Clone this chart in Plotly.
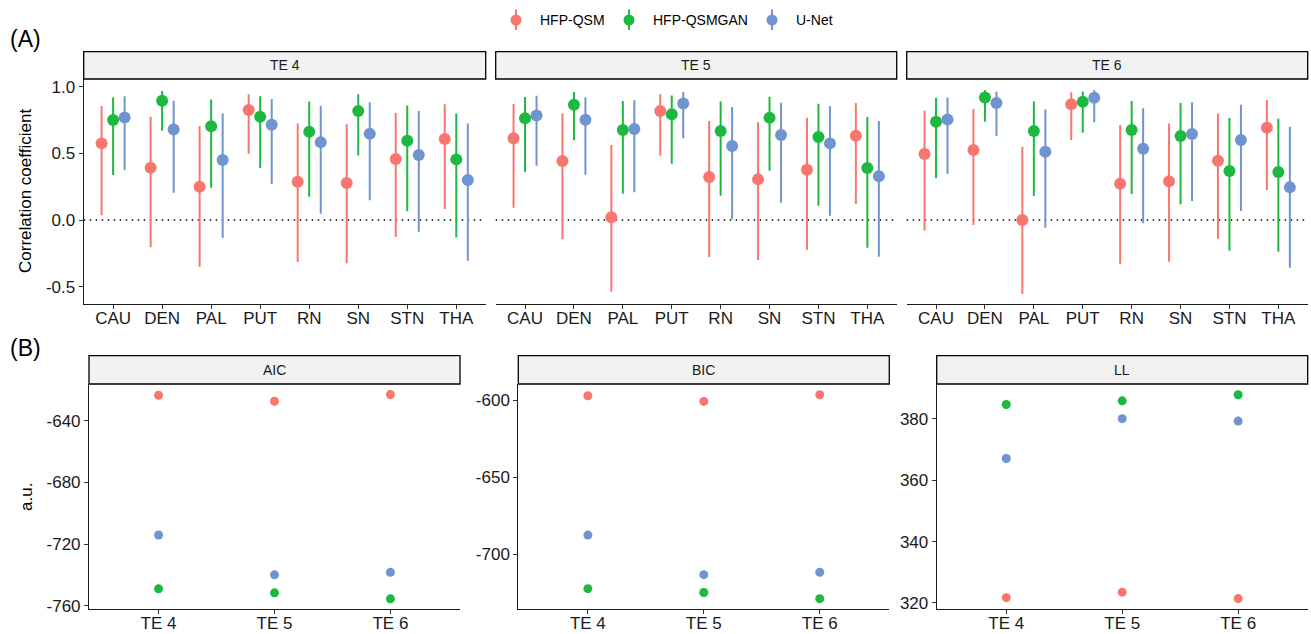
import plotly.graph_objects as go

W, H = 1311, 634

regions = ["CAU", "DEN", "PAL", "PUT", "RN", "SN", "STN", "THA"]
methods = ["HFP-QSM", "HFP-QSMGAN", "U-Net"]
te_labels = ["TE 4", "TE 5", "TE 6"]
metric_labels = ["AIC", "BIC", "LL"]
colors = ["#F8766D", "#1DB83F", "#7094CF"]

# ---- (A) correlation coefficients: estimate, lower, upper ----
# TE 4
r_te4_hfp = [0.575, 0.393, 0.250, 0.825, 0.288, 0.278, 0.458, 0.608]
lo_te4_hfp = [0.035, -0.205, -0.350, 0.498, -0.315, -0.325, -0.128, 0.083]
hi_te4_hfp = [0.855, 0.775, 0.705, 0.943, 0.725, 0.718, 0.803, 0.868]
r_te4_gan = [0.750, 0.895, 0.703, 0.775, 0.663, 0.818, 0.595, 0.455]
lo_te4_gan = [0.338, 0.670, 0.243, 0.390, 0.175, 0.485, 0.065, -0.130]
hi_te4_gan = [0.920, 0.968, 0.905, 0.928, 0.890, 0.943, 0.860, 0.800]
r_te4_unet = [0.770, 0.680, 0.450, 0.715, 0.583, 0.648, 0.488, 0.300]
lo_te4_unet = [0.375, 0.205, -0.135, 0.270, 0.048, 0.148, -0.088, -0.305]
hi_te4_unet = [0.928, 0.895, 0.800, 0.908, 0.858, 0.883, 0.818, 0.725]
# TE 5
r_te5_hfp = [0.613, 0.443, 0.020, 0.818, 0.323, 0.305, 0.378, 0.633]
lo_te5_hfp = [0.093, -0.145, -0.538, 0.483, -0.278, -0.300, -0.223, 0.120]
hi_te5_hfp = [0.870, 0.800, 0.563, 0.943, 0.743, 0.733, 0.768, 0.878]
r_te5_gan = [0.763, 0.865, 0.675, 0.793, 0.668, 0.768, 0.623, 0.390]
lo_te5_gan = [0.360, 0.598, 0.198, 0.423, 0.183, 0.370, 0.108, -0.208]
hi_te5_gan = [0.923, 0.960, 0.893, 0.935, 0.890, 0.925, 0.873, 0.773]
r_te5_unet = [0.785, 0.753, 0.683, 0.875, 0.555, 0.638, 0.575, 0.328]
lo_te5_unet = [0.408, 0.340, 0.208, 0.613, 0.005, 0.130, 0.033, -0.275]
hi_te5_unet = [0.933, 0.920, 0.898, 0.960, 0.848, 0.880, 0.855, 0.743]
# TE 6
r_te6_hfp = [0.495, 0.525, 0.000, 0.868, 0.273, 0.290, 0.445, 0.693]
lo_te6_hfp = [-0.080, -0.038, -0.555, 0.600, -0.330, -0.313, -0.140, 0.225]
hi_te6_hfp = [0.820, 0.833, 0.550, 0.958, 0.713, 0.725, 0.800, 0.900]
r_te6_gan = [0.738, 0.920, 0.668, 0.888, 0.675, 0.630, 0.368, 0.360]
lo_te6_gan = [0.313, 0.738, 0.180, 0.655, 0.195, 0.118, -0.230, -0.238]
hi_te6_gan = [0.915, 0.975, 0.890, 0.965, 0.893, 0.878, 0.765, 0.760]
r_te6_unet = [0.755, 0.878, 0.513, 0.918, 0.535, 0.645, 0.600, 0.245]
lo_te6_unet = [0.345, 0.630, -0.058, 0.733, -0.025, 0.143, 0.068, -0.358]
hi_te6_unet = [0.920, 0.963, 0.830, 0.975, 0.838, 0.883, 0.865, 0.700]

# ---- (B) model fit metrics per TE ----
aic_hfp = [-623.3, -627.2, -622.9]
aic_gan = [-749.1, -751.7, -755.6]
aic_unet = [-714.1, -740.0, -738.4]
bic_hfp = [-597.2, -600.9, -596.6]
bic_gan = [-722.5, -725.0, -729.0]
bic_unet = [-687.7, -713.4, -711.9]
ll_hfp = [321.7, 323.5, 321.4]
ll_gan = [384.7, 385.9, 387.9]
ll_unet = [367.1, 380.1, 379.3]

# tick labels
corr_tickvals = [-0.5, 0.0, 0.5, 1.0]
corr_ticktext = ["-0.5", "0.0", "0.5", "1.0"]
aic_ticks = [-760, -720, -680, -640]
bic_ticks = [-700, -650, -600]
ll_ticks = [320, 340, 360, 380]

top_data = [
    [(r_te4_hfp, lo_te4_hfp, hi_te4_hfp), (r_te4_gan, lo_te4_gan, hi_te4_gan), (r_te4_unet, lo_te4_unet, hi_te4_unet)],
    [(r_te5_hfp, lo_te5_hfp, hi_te5_hfp), (r_te5_gan, lo_te5_gan, hi_te5_gan), (r_te5_unet, lo_te5_unet, hi_te5_unet)],
    [(r_te6_hfp, lo_te6_hfp, hi_te6_hfp), (r_te6_gan, lo_te6_gan, hi_te6_gan), (r_te6_unet, lo_te6_unet, hi_te6_unet)],
]
bottom_data = [
    [aic_hfp, aic_gan, aic_unet],
    [bic_hfp, bic_gan, bic_unet],
    [ll_hfp, ll_gan, ll_unet],
]

FONT = "Liberation Sans, Arial, sans-serif"

# ---- layout geometry (pixels) ----
top_x = [(83.7, 485.7), (495.7, 896.7), (906.7, 1307.7)]
top_plot_y = (79.0, 304.0)
top_strip_y = (51.7, 79.0)
bot_x = [(89.0, 460.0), (518.3, 889.3), (936.7, 1307.7)]
bot_plot_y = (384.0, 609.0)
bot_strip_y = (355.7, 384.0)


def px(x):
    return x / W


def py(y):
    return 1 - y / H


fig = go.Figure()
dodge = [-0.235, 0.0, 0.235]

axis_common = dict(
    showgrid=False, zeroline=False, showline=True, linecolor="#1a1a1a", linewidth=1.1,
    ticks="outside", ticklen=4, tickwidth=1.1, tickcolor="#333333",
    tickfont=dict(family=FONT, size=17, color="#1a1a1a"), fixedrange=True,
    automargin=False,
)
xaxis_extra = dict(ticklabelstandoff=-5)

shapes = []
annotations = []

# top panels
for p in range(3):
    xa = "x" if p == 0 else f"x{p + 1}"
    ya = "y" if p == 0 else f"y{p + 1}"
    for m in range(3):
        est, lo, hi = top_data[p][m]
        xs = [i + 1 + dodge[m] for i in range(len(regions))]
        fig.add_trace(go.Scatter(
            x=xs, y=est, mode="markers", name=methods[m], showlegend=False,
            marker=dict(color=colors[m], size=12, line=dict(width=0)),
            error_y=dict(type="data", symmetric=False,
                         array=[h - e for h, e in zip(hi, est)],
                         arrayminus=[e - l for e, l in zip(est, lo)],
                         thickness=2, width=0, color=colors[m]),
            xaxis=xa, yaxis=ya, hoverinfo="skip",
        ))
    xkey = "xaxis" if p == 0 else f"xaxis{p + 1}"
    ykey = "yaxis" if p == 0 else f"yaxis{p + 1}"
    fig.update_layout(**{
        xkey: dict(axis_common, **xaxis_extra, domain=[px(top_x[p][0]), px(top_x[p][1])],
                   range=[0.4, 8.6], tickvals=list(range(1, 9)), ticktext=regions,
                   anchor=ya),
        ykey: dict(axis_common, domain=[py(top_plot_y[1]), py(top_plot_y[0])],
                   range=[-0.63, 1.058], tickvals=corr_tickvals, ticktext=corr_ticktext,
                   anchor=xa,
                   showline=(p == 0), showticklabels=(p == 0),
                   ticks="outside" if p == 0 else ""),
    })
    # zero dotted line
    shapes.append(dict(type="line", xref=f"{xa} domain", yref=ya, x0=0, x1=1, y0=0, y1=0,
                       line=dict(color="black", width=1.5, dash="1.5px,4.5px"), layer="below"))
    # strip
    shapes.append(dict(type="rect", xref="paper", yref="paper",
                       x0=px(top_x[p][0]), x1=px(top_x[p][1]),
                       y0=py(top_strip_y[1]), y1=py(top_strip_y[0]),
                       fillcolor="#F2F2F2", line=dict(color="black", width=1.3)))
    annotations.append(dict(xref="paper", yref="paper",
                            x=px((top_x[p][0] + top_x[p][1]) / 2),
                            y=py((top_strip_y[0] + top_strip_y[1]) / 2),
                            text=te_labels[p], showarrow=False,
                            font=dict(family=FONT, size=14, color="#1a1a1a"),
                            xanchor="center", yanchor="middle"))

# bottom panels
bot_ranges = [[-762.2, -616.0], [-735.7, -589.6], [318.0, 391.4]]
bot_ticks = [aic_ticks, bic_ticks, ll_ticks]
for p in range(3):
    n = p + 4
    xa, ya = f"x{n}", f"y{n}"
    for m in range(3):
        fig.add_trace(go.Scatter(
            x=[1, 2, 3], y=bottom_data[p][m], mode="markers", name=methods[m], showlegend=False,
            marker=dict(color=colors[m], size=9, line=dict(width=0)),
            xaxis=xa, yaxis=ya, hoverinfo="skip",
        ))
    fig.update_layout(**{
        f"xaxis{n}": dict(axis_common, **xaxis_extra, domain=[px(bot_x[p][0]), px(bot_x[p][1])],
                          range=[0.4, 3.6], tickvals=[1, 2, 3], ticktext=te_labels, anchor=ya),
        f"yaxis{n}": dict(axis_common, domain=[py(bot_plot_y[1]), py(bot_plot_y[0])],
                          range=bot_ranges[p], tickvals=bot_ticks[p],
                          ticktext=[str(v) for v in bot_ticks[p]], anchor=xa),
    })
    shapes.append(dict(type="rect", xref="paper", yref="paper",
                       x0=px(bot_x[p][0]), x1=px(bot_x[p][1]),
                       y0=py(bot_strip_y[1]), y1=py(bot_strip_y[0]),
                       fillcolor="#F2F2F2", line=dict(color="black", width=1.3)))
    annotations.append(dict(xref="paper", yref="paper",
                            x=px((bot_x[p][0] + bot_x[p][1]) / 2),
                            y=py((bot_strip_y[0] + bot_strip_y[1]) / 2),
                            text=metric_labels[p], showarrow=False,
                            font=dict(family=FONT, size=14, color="#1a1a1a"),
                            xanchor="center", yanchor="middle"))

# axis titles and panel labels
annotations.append(dict(xref="paper", yref="paper", x=px(25), y=py(191),
                        text="Correlation coefficient", textangle=-90, showarrow=False,
                        font=dict(family=FONT, size=17, color="black"),
                        xanchor="center", yanchor="middle"))
annotations.append(dict(xref="paper", yref="paper", x=px(26), y=py(497),
                        text="a.u.", textangle=-90, showarrow=False,
                        font=dict(family=FONT, size=17, color="black"),
                        xanchor="center", yanchor="middle"))
annotations.append(dict(xref="paper", yref="paper", x=px(8), y=py(39),
                        text="(A)", showarrow=False,
                        font=dict(family=FONT, size=23, color="black"),
                        xanchor="left", yanchor="middle"))
annotations.append(dict(xref="paper", yref="paper", x=px(8), y=py(348),
                        text="(B)", showarrow=False,
                        font=dict(family=FONT, size=23, color="black"),
                        xanchor="left", yanchor="middle"))

# legend (drawn as glyphs: vertical line + point)
leg_x = [516, 629, 772]
leg_y = 20
for m in range(3):
    shapes.append(dict(type="line", xref="paper", yref="paper",
                       x0=px(leg_x[m]), x1=px(leg_x[m]), y0=py(30), y1=py(9.5),
                       line=dict(color=colors[m], width=2)))
    shapes.append(dict(type="circle", xref="paper", yref="paper",
                       x0=px(leg_x[m] - 5.5), x1=px(leg_x[m] + 5.5),
                       y0=py(leg_y + 5.5), y1=py(leg_y - 5.5),
                       fillcolor=colors[m], line=dict(width=0)))
    annotations.append(dict(xref="paper", yref="paper", x=px(leg_x[m] + 22), y=py(leg_y),
                            text=methods[m], showarrow=False,
                            font=dict(family=FONT, size=14, color="black"),
                            xanchor="left", yanchor="middle"))

fig.update_layout(
    width=W, height=H, margin=dict(l=0, r=0, t=0, b=0, autoexpand=False),
    paper_bgcolor="white", plot_bgcolor="white",
    shapes=shapes, annotations=annotations, showlegend=False,
    font=dict(family=FONT),
)

fig.write_html(
    "out.html",
    config={"displayModeBar": False},
    post_script="document.body.style.margin='0';document.body.style.padding='0';document.body.style.overflow='hidden';",
)
